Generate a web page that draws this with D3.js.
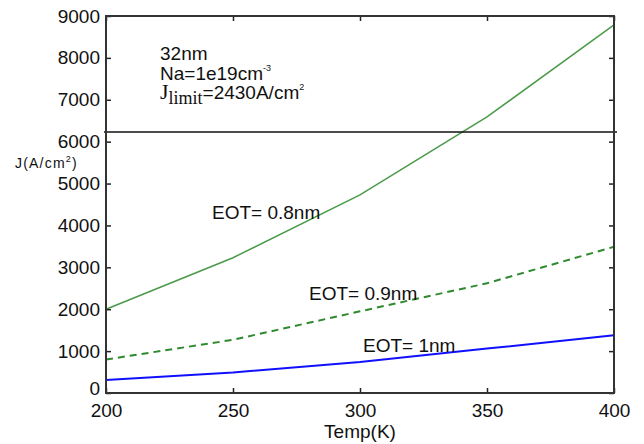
<!DOCTYPE html>
<html>
<head>
<meta charset="utf-8">
<script src="https://cdn.jsdelivr.net/npm/d3@7"></script>
<style>
body { margin: 0; background: #fff; }
text { font-family: "Liberation Sans", Arial, sans-serif; fill: #111; }
</style>
</head>
<body>
<div id="graph"></div>
<script>
var temps = [200, 250, 300, 350, 400];
var eot08 = [2000, 3230, 4730, 6590, 8790];
var eot09 = [800, 1270, 1950, 2620, 3490];
var eot10 = [310, 490, 740, 1060, 1380];
var jLimitLine = 6230;
var xTicks = [200, 250, 300, 350, 400];
var yTicks = [0, 1000, 2000, 3000, 4000, 5000, 6000, 7000, 8000, 9000];

var width = 644, height = 444;
var plotLeft = 106, plotRight = 614, plotTop = 16, plotBottom = 393;

var x = d3.scaleLinear().domain([200, 400]).range([plotLeft, plotRight]);
var y = d3.scaleLinear().domain([0, 9000]).range([plotBottom, plotTop]);

var svg = d3.select("#graph").append("svg")
            .attr("width", width)
            .attr("height", height);

var line = d3.line()
            .x(function(d) { return x(d[0]); })
            .y(function(d) { return y(d[1]); });

function pairs(vals) {
    return temps.map(function(t, i) { return [t, vals[i]]; });
}

// curves
svg.append("path").attr("d", line(pairs(eot08)))
    .attr("fill", "none").attr("stroke", "#4a9a4a").attr("stroke-width", 1.5);
svg.append("path").attr("d", line(pairs(eot09)))
    .attr("fill", "none").attr("stroke", "#2f8a2f").attr("stroke-width", 2)
    .attr("stroke-dasharray", "7,5");
svg.append("path").attr("d", line(pairs(eot10)))
    .attr("fill", "none").attr("stroke", "#1010ff").attr("stroke-width", 2);

// limit line
svg.append("line")
    .attr("x1", plotLeft - 2).attr("x2", plotRight + 3)
    .attr("y1", y(jLimitLine)).attr("y2", y(jLimitLine))
    .attr("stroke", "#111").attr("stroke-width", 1.6);

// axes, matlab style ticks inside
var xAxis = svg.append("g").attr("transform", "translate(0," + plotBottom + ")")
    .call(d3.axisBottom(x).tickValues(xTicks).tickSize(-5).tickPadding(11).tickFormat(d3.format("d")));
var xTop = svg.append("g").attr("transform", "translate(0," + plotTop + ")")
    .call(d3.axisTop(x).tickValues(xTicks).tickSize(-5).tickFormat(""));
var yAxis = svg.append("g").attr("transform", "translate(" + plotLeft + ",0)")
    .call(d3.axisLeft(y).tickValues(yTicks).tickSize(-5).tickPadding(6).tickFormat(d3.format("d")));
var yRight = svg.append("g").attr("transform", "translate(" + plotRight + ",0)")
    .call(d3.axisRight(y).tickValues(yTicks).tickSize(-5).tickFormat(""));

[xAxis, xTop, yAxis, yRight].forEach(function(g) {
    g.selectAll(".domain").remove();
    g.selectAll(".tick line").attr("stroke", "#222").attr("stroke-width", 1.5);
    g.selectAll("text").attr("font-size", 19).attr("fill", "#222")
        .attr("font-family", "Liberation Sans, Arial, sans-serif");
});
// the 0 label sits a bit higher, as in the original
yAxis.selectAll(".tick text").filter(function(d) { return d === 0; }).attr("dy", "0.1em");

svg.append("rect")
    .attr("x", plotLeft).attr("y", plotTop)
    .attr("width", plotRight - plotLeft).attr("height", plotBottom - plotTop)
    .attr("fill", "none").attr("stroke", "#333").attr("stroke-width", 2);

// axis labels
svg.append("text").attr("x", (plotLeft + plotRight) / 2).attr("y", 438)
    .attr("text-anchor", "middle").attr("font-size", 19).text("Temp(K)");
var yl = svg.append("text").attr("x", 15).attr("y", 168).attr("font-size", 14)
    .attr("letter-spacing", 1.2);
yl.append("tspan").text("J(A/cm");
yl.append("tspan").attr("font-size", 9).attr("dy", -6).text("2");
yl.append("tspan").attr("dy", 6).text(")");

// annotation
svg.append("text").attr("x", 160).attr("y", 60).attr("font-size", 19).text("32nm");
var na = svg.append("text").attr("x", 160).attr("y", 80).attr("font-size", 19);
na.append("tspan").text("Na=1e19cm");
na.append("tspan").attr("font-size", 9).attr("dy", -9).text("-3");
var jl = svg.append("text").attr("x", 160).attr("y", 99).attr("font-size", 19);
jl.append("tspan").attr("font-family", "Liberation Serif, serif").attr("font-size", 22).text("J");
jl.append("tspan").attr("font-family", "Liberation Serif, serif").attr("font-size", 18).attr("dy", 5).text("limit");
jl.append("tspan").attr("dy", -5).text("=2430A/cm");
jl.append("tspan").attr("font-size", 9).attr("dy", -9).text("2");

// curve labels
svg.append("text").attr("x", 212).attr("y", 219).attr("font-size", 19).text("EOT= 0.8nm");
svg.append("text").attr("x", 309).attr("y", 300).attr("font-size", 19).text("EOT= 0.9nm");
svg.append("text").attr("x", 363).attr("y", 352).attr("font-size", 19).text("EOT= 1nm");
</script>
</body>
</html>
